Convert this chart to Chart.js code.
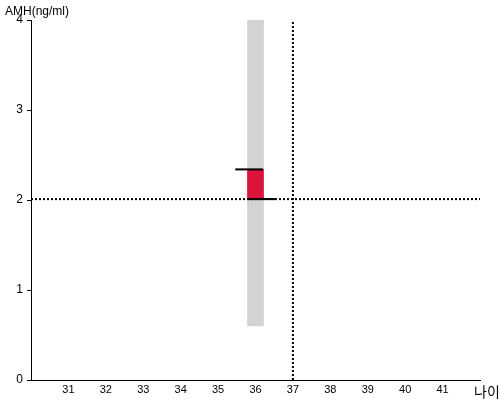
<!DOCTYPE html>
<html>
<head>
<meta charset="utf-8">
<script src="https://cdn.jsdelivr.net/npm/chart.js@4/dist/chart.umd.min.js"></script>
<style>
  html, body { margin: 0; padding: 0; background: #fff; }
  #wrap { width: 500px; height: 400px; position: relative; }
</style>
</head>
<body>
<div id="wrap"><canvas id="amhChart"></canvas></div>
<script>
  // data
  const ageRange = [30, 42];
  const ageTicks = [31, 32, 33, 34, 35, 36, 37, 38, 39, 40, 41];
  const amhTicks = [0, 1, 2, 3, 4];
  const bandAge = 36;
  const bandRange = [0.6, 4];
  const amhRange = [2.01, 2.34];
  const upperMarkAge = [35.46, 36.2];
  const upperMarkAmh = 2.34;
  const lowerMarkAge = [35.78, 36.54];
  const lowerMarkAmh = 2.01;
  const refAge = 37;
  const refAmh = 2.01;

  const tickFont = { family: 'Liberation Sans, Arial, sans-serif', size: 11 };

  // axis titles drawn at the corners like the original
  const cornerTitles = {
    id: 'cornerTitles',
    afterDraw(chart) {
      const ctx = chart.ctx;
      ctx.save();
      ctx.fillStyle = '#000';
      ctx.textBaseline = 'alphabetic';
      ctx.textAlign = 'left';
      ctx.font = '12px "Liberation Sans", Arial, sans-serif';
      ctx.fillText('AMH(ng/ml)', 5, 15);
      ctx.font = '14px "Noto Sans CJK KR", sans-serif';
      ctx.fillText('나이', 474, 397);
      ctx.restore();
    }
  };

  new Chart(document.getElementById('amhChart'), {
    type: 'bar',
    data: {
      datasets: [
        {
          type: 'line',
          data: [{ x: upperMarkAge[0], y: upperMarkAmh }, { x: upperMarkAge[1], y: upperMarkAmh }],
          borderColor: '#000',
          borderWidth: 2,
          pointRadius: 0,
          order: 1
        },
        {
          type: 'line',
          data: [{ x: lowerMarkAge[0], y: lowerMarkAmh }, { x: lowerMarkAge[1], y: lowerMarkAmh }],
          borderColor: '#000',
          borderWidth: 2,
          pointRadius: 0,
          order: 1
        },
        {
          type: 'line',
          data: [{ x: refAge, y: amhTicks[0] }, { x: refAge, y: amhTicks[amhTicks.length - 1] }],
          borderColor: '#000',
          borderWidth: 2,
          borderDash: [2, 2],
          pointRadius: 0,
          order: 2
        },
        {
          type: 'line',
          data: [{ x: ageRange[0], y: refAmh }, { x: ageRange[1], y: refAmh }],
          borderColor: '#000',
          borderWidth: 2,
          borderDash: [2, 2],
          pointRadius: 0,
          order: 2
        },
        {
          data: [{ x: bandAge, y: amhRange }],
          backgroundColor: '#dc143c',
          barThickness: 16,
          grouped: false,
          order: 3
        },
        {
          data: [{ x: bandAge, y: bandRange }],
          backgroundColor: '#d3d3d3',
          barThickness: 16,
          grouped: false,
          order: 4
        }
      ]
    },
    options: {
      responsive: true,
      maintainAspectRatio: false,
      animation: false,
      layout: { padding: { top: 20, right: 20, left: 0, bottom: 0 } },
      plugins: {
        legend: { display: false },
        tooltip: { enabled: false }
      },
      scales: {
        x: {
          type: 'linear',
          min: ageRange[0],
          max: ageRange[1],
          offset: false,
          afterFit(scale) { scale.height = 20; },
          grid: { display: false, drawTicks: false },
          border: { display: true, color: '#000', width: 1 },
          ticks: {
            stepSize: 1,
            padding: 3,
            color: '#000',
            font: tickFont,
            maxRotation: 0,
            callback: v => ageTicks.includes(v) ? String(v) : null
          }
        },
        y: {
          min: amhTicks[0],
          max: amhTicks[amhTicks.length - 1],
          afterFit(scale) { scale.width = 31; },
          grid: { display: true, drawOnChartArea: false, drawTicks: true, tickLength: 4, color: '#000' },
          border: { display: true, color: '#000', width: 1 },
          ticks: {
            stepSize: 1,
            padding: 4,
            color: '#000',
            font: { family: 'Liberation Sans, Arial, sans-serif', size: 12 }
          }
        }
      }
    },
    plugins: [cornerTitles]
  });
</script>
</body>
</html>
